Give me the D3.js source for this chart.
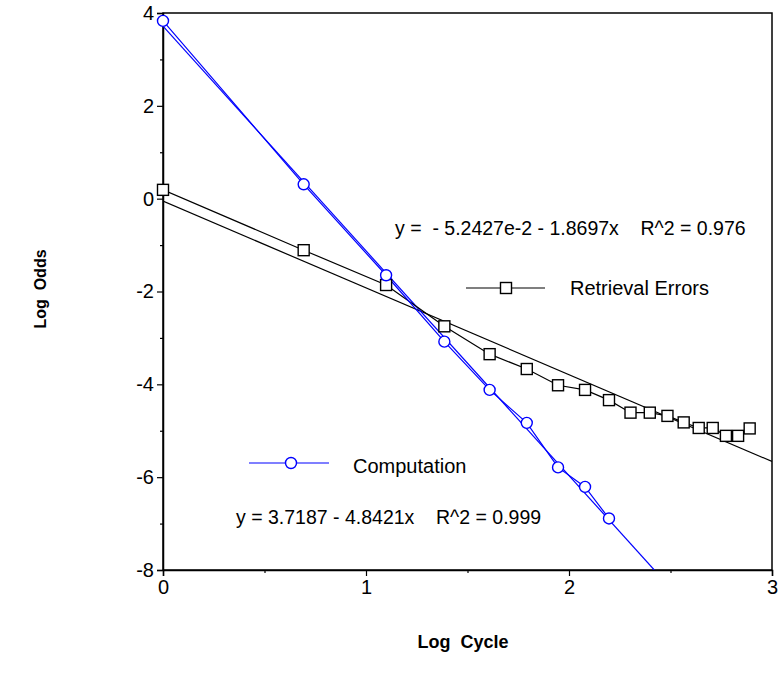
<!DOCTYPE html>
<html>
<head>
<meta charset="utf-8">
<script src="https://cdn.jsdelivr.net/npm/d3@7"></script>
<style>
  body { margin: 0; background: #fff; }
  text { font-family: "Liberation Sans", Arial, sans-serif; }
</style>
</head>
<body>
<div id="chart"></div>
<script>
// Log cycle values (ln of cycle number)
const logCycle = [0, 0.693, 1.099, 1.386, 1.609, 1.792, 1.946, 2.079, 2.197,
    2.303, 2.398, 2.485, 2.565, 2.639, 2.708, 2.773, 2.833, 2.890];

const retrievalOdds = [0.19, -1.11, -1.86, -2.75, -3.35, -3.67, -4.02, -4.12, -4.34,
    -4.61, -4.61, -4.68, -4.82, -4.94, -4.94, -5.11, -5.11, -4.95];

const computationOdds = [3.83, 0.31, -1.65, -3.08, -4.12, -4.83, -5.79, -6.21, -6.89];

// regression fits: [intercept, slope]
const retrievalFit = [-0.052427, -1.8697];
const computationFit = [3.7187, -4.8421];

const xTicks = [0, 1, 2, 3];
const xMinor = [0.5, 1.5, 2.5];
const yTicks = [-8, -6, -4, -2, 0, 2, 4];
const yMinor = [-7, -5, -3, -1, 1, 3];

const width = 778;
const height = 685;
const plot = { left: 163, right: 772, top: 13, bottom: 570 };

const svg = d3.select("#chart").append("svg")
    .attr("width", width)
    .attr("height", height);

const x = d3.scaleLinear().domain([0, 3]).range([plot.left, plot.right]);
const y = d3.scaleLinear().domain([-8, 4]).range([plot.bottom, plot.top]);

svg.append("defs").append("clipPath")
    .attr("id", "plotclip")
    .append("rect")
    .attr("x", plot.left).attr("y", plot.top)
    .attr("width", plot.right - plot.left)
    .attr("height", plot.bottom - plot.top);

// frame
svg.append("rect")
    .attr("x", plot.left).attr("y", plot.top)
    .attr("width", plot.right - plot.left)
    .attr("height", plot.bottom - plot.top)
    .attr("fill", "none")
    .attr("stroke", "#000")
    .attr("stroke-width", 1.5);

// axes (plain hyphen for minus sign)
svg.append("g")
    .attr("transform", `translate(0,${plot.bottom})`)
    .call(d3.axisBottom(x).tickValues(xTicks).tickSize(6).tickPadding(4).tickFormat(d => String(d)));
svg.append("g")
    .attr("transform", `translate(0,${plot.bottom})`)
    .call(d3.axisBottom(x).tickValues(xMinor).tickSize(3).tickFormat(""))
    .select(".domain").remove();

svg.append("g")
    .attr("transform", `translate(${plot.left},0)`)
    .call(d3.axisLeft(y).tickValues(yTicks).tickSize(6).tickPadding(3).tickFormat(d => String(d)));
svg.append("g")
    .attr("transform", `translate(${plot.left},0)`)
    .call(d3.axisLeft(y).tickValues(yMinor).tickSize(3).tickFormat(""))
    .select(".domain").remove();

svg.selectAll(".domain").attr("stroke-width", 1.5);
svg.selectAll(".tick line").attr("stroke-width", 1.2);
svg.selectAll(".tick text")
    .attr("font-family", "Liberation Sans, Arial, sans-serif")
    .attr("font-size", 20)
    .attr("fill", "#000");

// axis titles
svg.append("text")
    .attr("x", 463).attr("y", 648)
    .attr("text-anchor", "middle")
    .attr("font-size", 18)
    .attr("font-weight", "bold")
    .style("white-space", "pre")
    .text("Log  Cycle");

svg.append("text")
    .attr("transform", "translate(46,289) rotate(-90)")
    .attr("text-anchor", "middle")
    .attr("font-size", 16)
    .attr("font-weight", "bold")
    .style("white-space", "pre")
    .text("Log  Odds");

const g = svg.append("g").attr("clip-path", "url(#plotclip)");

// fit lines
function fitEnd(fit) {
    const xEnd = Math.min(3, (-8 - fit[0]) / fit[1]);
    return [[0, fit[0]], [xEnd, fit[0] + fit[1] * xEnd]];
}
const line = d3.line().x(d => x(d[0])).y(d => y(d[1]));

g.append("path")
    .attr("d", line(fitEnd(retrievalFit)))
    .attr("fill", "none").attr("stroke", "#000").attr("stroke-width", 1.2);
g.append("path")
    .attr("d", line(fitEnd(computationFit)))
    .attr("fill", "none").attr("stroke", "#0000ff").attr("stroke-width", 1.2);

// data lines
const retrievalPts = logCycle.map((c, i) => [c, retrievalOdds[i]]);
const computationPts = computationOdds.map((v, i) => [logCycle[i], v]);

g.append("path")
    .attr("d", line(retrievalPts))
    .attr("fill", "none").attr("stroke", "#000").attr("stroke-width", 1.2);
g.append("path")
    .attr("d", line(computationPts))
    .attr("fill", "none").attr("stroke", "#0000ff").attr("stroke-width", 1.2);

const sq = 11;
svg.append("g").selectAll("rect")
    .data(retrievalPts)
    .join("rect")
    .attr("x", d => x(d[0]) - sq / 2)
    .attr("y", d => y(d[1]) - sq / 2)
    .attr("width", sq).attr("height", sq)
    .attr("fill", "#fff").attr("stroke", "#000").attr("stroke-width", 1.4);

svg.append("g").selectAll("circle")
    .data(computationPts)
    .join("circle")
    .attr("cx", d => x(d[0]))
    .attr("cy", d => y(d[1]))
    .attr("r", 5.5)
    .attr("fill", "#fff").attr("stroke", "#0000ff").attr("stroke-width", 1.4);

// legends
const leg = svg.append("g");
leg.append("line")
    .attr("x1", 466).attr("x2", 545).attr("y1", 288).attr("y2", 288)
    .attr("stroke", "#000").attr("stroke-width", 1.2);
leg.append("rect")
    .attr("x", 506 - sq / 2).attr("y", 288 - sq / 2)
    .attr("width", sq).attr("height", sq)
    .attr("fill", "#fff").attr("stroke", "#000").attr("stroke-width", 1.4);
leg.append("text")
    .attr("x", 570).attr("y", 295)
    .attr("font-size", 20)
    .text("Retrieval Errors");

leg.append("line")
    .attr("x1", 249).attr("x2", 329).attr("y1", 463).attr("y2", 463)
    .attr("stroke", "#0000ff").attr("stroke-width", 1.2);
leg.append("circle")
    .attr("cx", 291).attr("cy", 463).attr("r", 5.5)
    .attr("fill", "#fff").attr("stroke", "#0000ff").attr("stroke-width", 1.4);
leg.append("text")
    .attr("x", 353).attr("y", 473)
    .attr("font-size", 20)
    .text("Computation");

// equations
svg.append("text")
    .attr("x", 395).attr("y", 235)
    .attr("font-size", 19.5)
    .style("white-space", "pre")
    .text("y =  - 5.2427e-2 - 1.8697x    R^2 = 0.976");

svg.append("text")
    .attr("x", 236).attr("y", 524)
    .attr("font-size", 19.5)
    .style("white-space", "pre")
    .text("y = 3.7187 - 4.8421x    R^2 = 0.999");
</script>
</body>
</html>
